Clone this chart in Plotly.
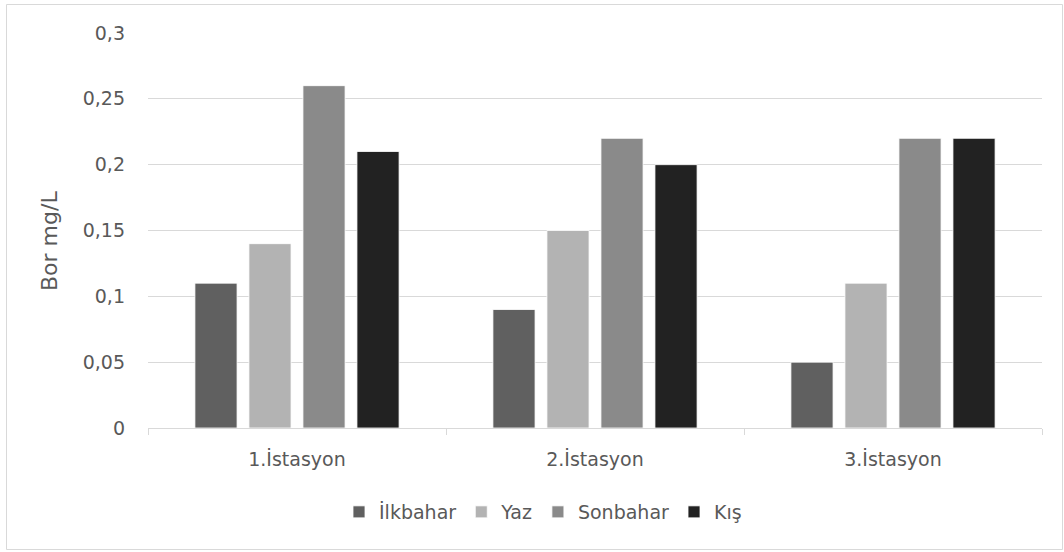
import plotly.graph_objects as go

categories = ["1.İstasyon", "2.İstasyon", "3.İstasyon"]
series_names = ["İlkbahar", "Yaz", "Sonbahar", "Kış"]
ilkbahar = [0.11, 0.09, 0.05]
yaz = [0.14, 0.15, 0.11]
sonbahar = [0.26, 0.22, 0.22]
kis = [0.21, 0.20, 0.22]
y_ticks = [0, 0.05, 0.1, 0.15, 0.2, 0.25, 0.3]

colors = ["#606060", "#b3b3b3", "#8a8a8a", "#222222"]
values = [ilkbahar, yaz, sonbahar, kis]

W, H = 1064, 552
L, R, T, B = 148, 22, 33, 124
pw, ph = W - L - R, H - T - B

def px_x(x):
    return (x - L) / pw

def px_y(y):
    return (H - B - y) / ph

FONT = "DejaVu Sans"
TXT = "#595959"

fig = go.Figure()
for name, vals, c in zip(series_names, values, colors):
    fig.add_trace(go.Bar(
        x=categories, y=vals, name=name,
        marker=dict(color=c, line=dict(color="#ffffff", width=0.8)),
    ))

fig.update_layout(
    width=W, height=H,
    margin=dict(l=L, r=R, t=T, b=B, pad=0),
    paper_bgcolor="white", plot_bgcolor="white",
    separators=",.",
    barmode="group", bargap=0.275, bargroupgap=0.22,
    font=dict(family=FONT, size=19, color=TXT),
    showlegend=True,
    legend=dict(
        orientation="h", xref="paper", yref="paper",
        x=px_x(543), y=px_y(512), xanchor="center", yanchor="middle",
        font=dict(family=FONT, size=19, color=TXT),
        itemwidth=30, traceorder="normal",
    ),
    xaxis=dict(
        showgrid=False, showline=True, linecolor="#d9d9d9", linewidth=1,
        ticks="outside", tickson="boundaries", ticklen=6, tickcolor="#d9d9d9",
        tickfont=dict(family=FONT, size=19, color=TXT),
        ticklabelstandoff=14,
    ),
    yaxis=dict(
        range=[0, 0.3], tickvals=y_ticks,
        showgrid=True, gridcolor="#d9d9d9", gridwidth=1,
        zeroline=False, showline=False,
        tickfont=dict(family=FONT, size=19, color=TXT),
        ticklabelstandoff=22,
    ),
    shapes=[dict(
        type="rect", xref="paper", yref="paper",
        x0=px_x(6.5), x1=px_x(1062.5), y0=px_y(549.5), y1=px_y(4.5),
        line=dict(color="#d9d9d9", width=1), fillcolor="rgba(0,0,0,0)",
        layer="below",
    )],
    annotations=[dict(
        text="Bor mg/L", xref="paper", yref="paper",
        x=px_x(50), y=px_y(241), xanchor="center", yanchor="middle",
        textangle=-90, showarrow=False,
        font=dict(family=FONT, size=22, color=TXT),
    )],
)

fig.write_html("out.html")
